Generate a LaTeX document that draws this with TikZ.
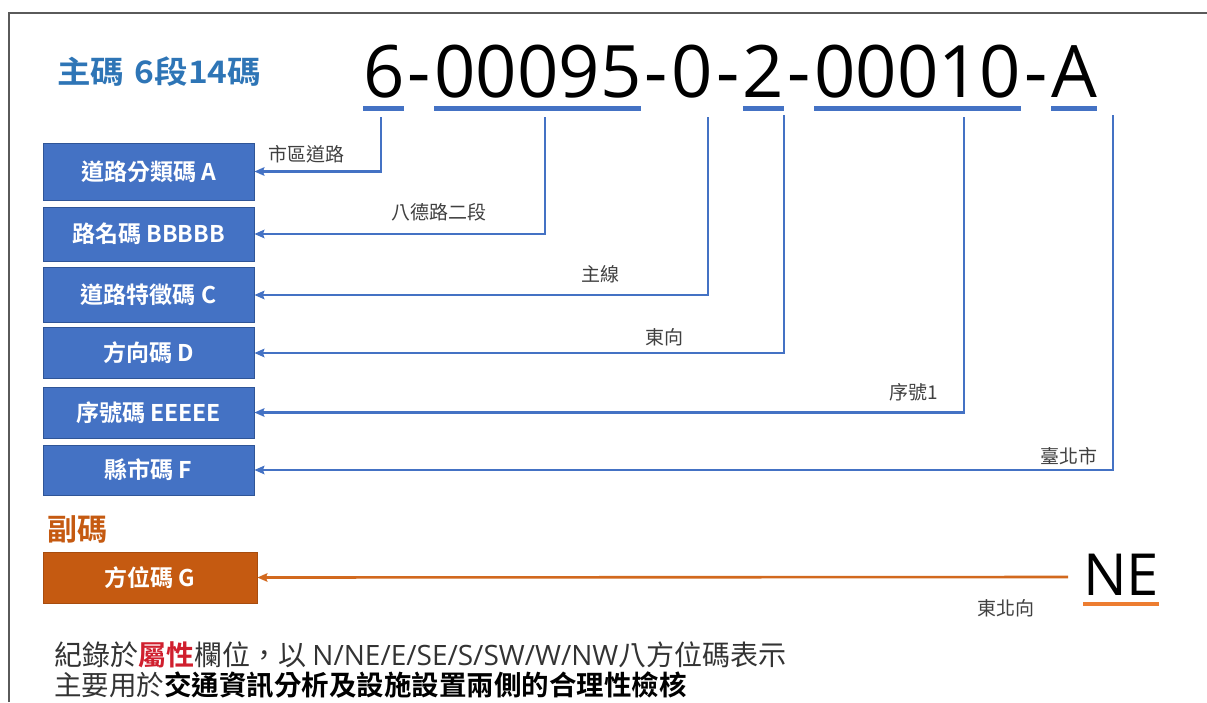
\documentclass[tikz,border=0pt]{standalone}
\usepackage{fontspec}
\setmainfont{Noto Sans CJK TC}[BoldFont={Noto Sans CJK TC Bold}]
\newfontfamily\latin{Open Sans}
\usetikzlibrary{arrows.meta}
\definecolor{titleblue}{HTML}{2E75B6}
\definecolor{connblue}{HTML}{4472C4}
\definecolor{boxblue}{HTML}{4472C4}
\definecolor{boxedge}{HTML}{2F5597}
\definecolor{orgbox}{HTML}{C55A11}
\definecolor{orgline}{HTML}{D2691E}
\definecolor{orgul}{HTML}{ED7D31}
\definecolor{redtxt}{HTML}{D01F2E}
\definecolor{labgray}{HTML}{404040}
\definecolor{txtgray}{HTML}{333333}
\definecolor{framegray}{HTML}{5A5A5A}
\tikzset{
  code/.style={font=\latin\fontsize{72.4}{80}\selectfont, inner sep=0pt, outer sep=0pt, anchor=base west},
  hy/.style={code, minimum width=30pt},
  uline/.style={draw=connblue, line width=5pt},
  conn/.style={draw=connblue, line width=2.6pt, -{Stealth[length=10pt,width=8.5pt,inset=1.5pt]}},
  oconn/.style={draw=orgline, line width=2.6pt, -{Stealth[length=10pt,width=8.5pt,inset=1.5pt]}},
  bluebox/.style={rectangle, fill=boxblue, draw=boxedge, line width=0.8pt, minimum width=211pt, text=white, font=\bfseries\fontsize{23}{26}\selectfont, inner sep=0pt},
  orangebox/.style={rectangle, fill=orgbox, draw=orgbox!85!black, line width=0.8pt, minimum width=214pt, minimum height=51pt, text=white, font=\bfseries\fontsize{23}{26}\selectfont, inner sep=0pt},
  lab/.style={anchor=east, inner sep=0pt, text=labgray, font=\fontsize{19}{22}\selectfont},
}
\begin{document}
\begin{tikzpicture}[x=1pt,y=-1pt]
\useasboundingbox (0,0) rectangle (1207,702);
% frame
\draw[framegray, line width=1.5pt] (9,702) -- (9,13) -- (1207,13);

% title
\node[anchor=west, inner sep=0pt, text=titleblue, font=\bfseries\fontsize{31}{34}\selectfont] (title) at (57,72) {\scalebox{1.08}[1]{主碼\hspace{10pt}6段14碼}};

% code
\node[code] (c6) at (363,97) {6};
\node[hy] (h1) at (c6.base east) {-};
\node[code] (c95) at (h1.base east) {00095};
\node[hy] (h2) at (c95.base east) {-};
\node[code] (c0) at (h2.base east) {0};
\node[hy] (h3) at (c0.base east) {-};
\node[code] (c2) at (h3.base east) {2};
\node[hy] (h4) at (c2.base east) {-};
\node[code] (c10) at (h4.base east) {00010};
\node[hy] (h5) at (c10.base east) {-};
\node[code] (cA) at (h5.base east) {A};

\foreach \s in {c6,c95,c2,c10,cA}
  \draw[uline] ([yshift=-11pt]\s.base west) -- ([yshift=-11pt]\s.base east);

% boxes
\node[bluebox, minimum height=57pt] (bA) at (148.5,171.5) {道路分類碼 A};
\node[bluebox, minimum height=54pt] (bB) at (148.5,234) {路名碼 BBBBB};
\node[bluebox, minimum height=55pt] (bC) at (148.5,295) {道路特徵碼 C};
\node[bluebox, minimum height=51pt] (bD) at (148.5,353) {方向碼 D};
\node[bluebox, minimum height=51pt] (bE) at (148.5,412.5) {序號碼 EEEEE};
\node[bluebox, minimum height=50pt] (bF) at (148.5,470) {縣市碼 F};

% connector starts
\coordinate (p1) at (381,117);
\coordinate (p2) at (545,117);
\coordinate (p3) at (708,117);
\coordinate (p4) at (784,115);
\coordinate (p5) at (964,117);
\coordinate (p6) at (1113,115);

\draw[conn] (p1) |- (bA.east);
\draw[conn] (p2) |- (bB.east);
\draw[conn] (p3) |- (bC.east);
\draw[conn] (p4) |- (bD.east);
\draw[conn] (p5) |- (bE.east);
\draw[conn] (p6) |- (bF.east);

% labels
\node[lab] (l1) at (345,154) {市區道路};
\node[lab] (l2) at (487,212) {八德路二段};
\node[lab] (l3) at (620,274) {主線};
\node[lab] (l4) at (684,337) {東向};
\node[lab] (l5) at (938,392) {序號1};
\node[lab] (l6) at (1098,456) {臺北市};

% sub code
\node[anchor=west, inner sep=0pt, text=orgbox, font=\bfseries\fontsize{30}{34}\selectfont] (sub) at (47,529) {副碼};
\node[orangebox] (bG) at (150,577.5) {方位碼 G};
\node[anchor=base west, inner sep=0pt, font=\latin\fontsize{58}{64}\selectfont] (ne) at (1083,595) {NE};
\draw[draw=orgul, line width=4pt] ([yshift=-9pt]ne.base west) -- ([yshift=-9pt]ne.base east);
\coordinate (pg) at (1068,577);
\draw[oconn] (pg) -- (bG.east);
\node[lab] (l7) at (1035,608) {東北向};

% notes
\node[anchor=west, inner sep=0pt, text=txtgray, font=\fontsize{28}{30}\selectfont] (note1) at (54,655) {紀錄於\textbf{\color{redtxt}屬性}欄位，以 {\latin N/NE/E/SE/S/SW/W/NW}八方位碼表示};
\node[anchor=west, inner sep=0pt, text=black, font=\fontsize{27.5}{30}\selectfont] (note2) at (54,685) {{\color{txtgray}主要用於}\textbf{交通資訊分析及設施設置兩側的合理性檢核}};
\end{tikzpicture}
\end{document}
